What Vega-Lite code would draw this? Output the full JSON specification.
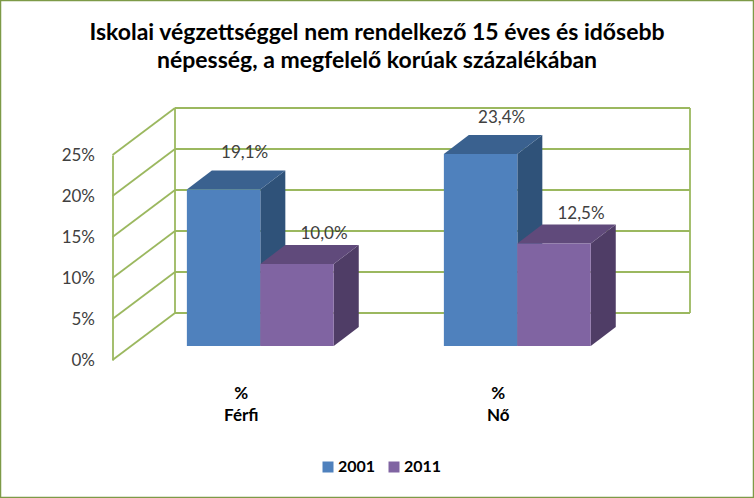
{
"$schema":"https://vega.github.io/schema/vega-lite/v6.json",
"width":754,"height":498,"padding":0,"autosize":"none","background":"white",
"config":{"view":{"stroke":"#7d9a47","strokeWidth":2.5}},
"title":{"text":["Iskolai végzettséggel nem rendelkező 15 éves és idősebb","népesség, a megfelelő korúak százalékában"],"anchor":"middle","font":"Lato","fontSize":23,"fontWeight":"bold","color":"#000000","lineHeight":28,"offset":-73,"baseline":"top"},
"datasets":{
"bars":[{"sex":"Férfi","year":"2001","value":19.1},{"sex":"Férfi","year":"2011","value":10.0},{"sex":"Nő","year":"2001","value":23.4},{"sex":"Nő","year":"2011","value":12.5}],
"ticks":[{"tick":0},{"tick":5},{"tick":10},{"tick":15},{"tick":20},{"tick":25}]
},
"layer":[
{"data":{"name":"ticks"},"mark":{"type":"rule","stroke":"#9bb85f","strokeWidth":1.8,"yOffset":-47},
 "encoding":{"y":{"field":"tick","type":"quantitative","scale":{"domain":[0,25],"range":[360,155],"nice":false},
   "axis":{"values":[0,5,10,15,20,25],"offset":-112.5,"labelExpr":"datum.value+'%'","labelFont":"Lato","labelFontSize":17,"labelColor":"#404040","labelPadding":18,"ticks":false,"grid":false,"domainColor":"#9bb85f","domainWidth":1.8,"title":null}},
  "x":{"value":175},"x2":{"value":690}}},
{"data":{"name":"ticks"},"mark":{"type":"point","shape":"M0,0L62.5,-47","size":4,"filled":false,"stroke":"#9bb85f","strokeWidth":1.8,"opacity":1},
 "encoding":{"y":{"field":"tick","type":"quantitative"},"x":{"value":112.5}}},
{"data":{"values":[{"a":0,"b":25}]},"mark":{"type":"rule","stroke":"#9bb85f","strokeWidth":1.8,"yOffset":-47,"y2Offset":-47},
 "encoding":{"y":{"field":"a","type":"quantitative"},"y2":{"field":"b"},"x":{"value":175}}},
{"data":{"values":[{"a":0,"b":25}]},"mark":{"type":"rule","stroke":"#9bb85f","strokeWidth":1.8,"yOffset":-47,"y2Offset":-47},
 "encoding":{"y":{"field":"a","type":"quantitative"},"y2":{"field":"b"},"x":{"value":690}}},
{"data":{"name":"bars"},
 "transform":[{"calculate":"'M36.75,0L61.75,-19L61.75,'+(8.2*datum.value-19)+'L36.75,'+(8.2*datum.value)+'Z'","as":"side"}],
 "mark":{"type":"point","filled":true,"size":4,"opacity":1,"yOffset":-14,"strokeWidth":0},
 "encoding":{"x":{"field":"sex","type":"nominal"},"xOffset":{"field":"year","type":"nominal"},"y":{"field":"value","type":"quantitative"},
  "shape":{"field":"side","type":"nominal","scale":null,"legend":null},
  "color":{"condition":{"test":"datum.year=='2001'","value":"#2F5279"},"value":"#4F3D66"}}},
{"data":{"name":"bars"},
 "mark":{"type":"point","filled":true,"size":4,"opacity":1,"yOffset":-14,"strokeWidth":0,"shape":"M-36.75,0L-11.75,-19L61.75,-19L36.75,0Z"},
 "encoding":{"x":{"field":"sex","type":"nominal"},"xOffset":{"field":"year","type":"nominal"},"y":{"field":"value","type":"quantitative"},
  "color":{"condition":{"test":"datum.year=='2001'","value":"#3A618F"},"value":"#604A7B"}}},
{"data":{"name":"bars"},
 "mark":{"type":"bar","yOffset":-14},
 "encoding":{
  "x":{"field":"sex","type":"nominal","sort":null,"scale":{"domain":["Férfi","Nő"],"range":[131.8,645.8],"paddingInner":0,"paddingOuter":0},
   "axis":{"title":null,"offset":-123,"labelPadding":18,"labelOffset":-19,"labelAngle":0,"labelAlign":"center","ticks":false,"domain":false,"labelFont":"Lato","labelFontSize":17,"labelFontWeight":"bold","labelColor":"#000000","labelLineHeight":22,"labelOverlap":false,"labelExpr":"['%',datum.label]"}},
  "xOffset":{"field":"year","type":"nominal","scale":{"paddingInner":0,"paddingOuter":0.75}},
  "y":{"field":"value","type":"quantitative"},
  "color":{"field":"year","type":"nominal","scale":{"domain":["2001","2011"],"range":["#4F81BD","#8064A2"]},
   "legend":{"title":null,"orient":"none","legendX":320,"legendY":459,"direction":"horizontal","columns":2,"symbolType":"square","symbolSize":121,"symbolStrokeWidth":0,"labelFont":"Lato","labelFontSize":16,"labelFontWeight":"bold","labelColor":"#000000","columnPadding":10,"labelOffset":2}}}},
{"data":{"name":"bars"},
 "transform":[{"filter":"datum.year=='2001'"},{"calculate":"replace(format(datum.value,'.1f'),'.',',')+'%'","as":"lab"}],
 "mark":{"type":"text","font":"Lato","fontSize":17,"color":"#404040","dx":21,"dy":-50},
 "encoding":{"x":{"field":"sex","type":"nominal"},"xOffset":{"field":"year","type":"nominal"},"y":{"field":"value","type":"quantitative"},"text":{"field":"lab"}}},
{"data":{"name":"bars"},
 "transform":[{"filter":"datum.year=='2011'"},{"calculate":"replace(format(datum.value,'.1f'),'.',',')+'%'","as":"lab"}],
 "mark":{"type":"text","font":"Lato","fontSize":17,"color":"#404040","dx":27,"dy":-44},
 "encoding":{"x":{"field":"sex","type":"nominal"},"xOffset":{"field":"year","type":"nominal"},"y":{"field":"value","type":"quantitative"},"text":{"field":"lab"}}}
]
}
